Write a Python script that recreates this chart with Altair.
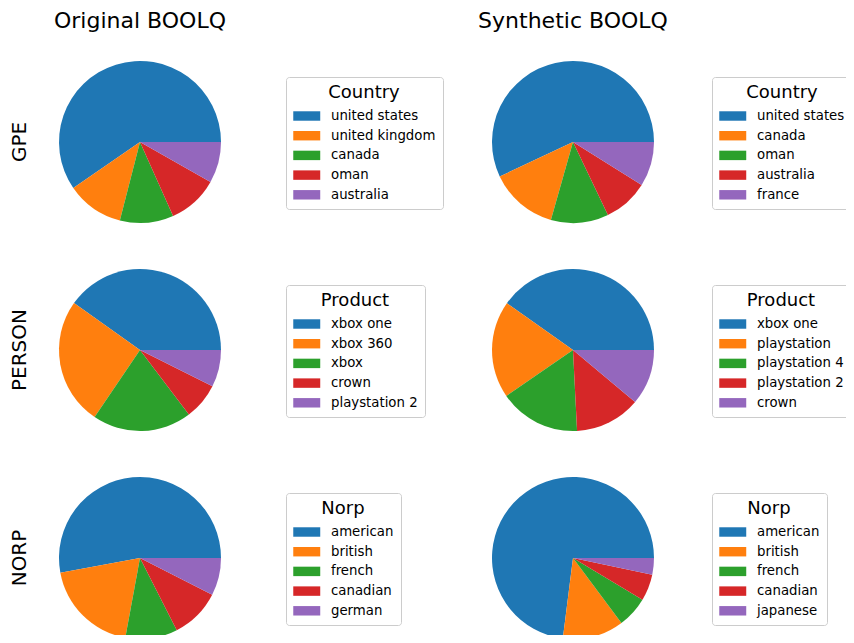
import math
import altair as alt
import pandas as pd

col_titles = ["Original BOOLQ", "Synthetic BOOLQ"]
row_labels = ["GPE", "PERSON", "NORP"]
legend_titles = ["Country", "Product", "Norp"]

gpe_orig_cats = ["united states", "united kingdom", "canada", "oman", "australia"]
gpe_orig_vals = [59.6, 11.4, 10.7, 10.1, 8.2]
gpe_syn_cats = ["united states", "canada", "oman", "australia", "france"]
gpe_syn_vals = [57.0, 13.6, 11.5, 9.0, 8.9]

person_orig_cats = ["xbox one", "xbox 360", "xbox", "crown", "playstation 2"]
person_orig_vals = [40.2, 25.4, 19.8, 7.3, 7.4]
person_syn_cats = ["xbox one", "playstation", "playstation 4", "playstation 2", "crown"]
person_syn_vals = [40.2, 19.4, 16.2, 13.1, 11.1]

norp_orig_cats = ["american", "british", "french", "canadian", "german"]
norp_orig_vals = [52.9, 19.2, 10.4, 10.0, 7.5]
norp_syn_cats = ["american", "british", "french", "canadian", "japanese"]
norp_syn_vals = [73.0, 12.2, 6.2, 5.3, 3.3]

palette = ["#1f77b4", "#ff7f0e", "#2ca02c", "#d62728", "#9467bd"]

cells = [
    [(gpe_orig_cats, gpe_orig_vals), (gpe_syn_cats, gpe_syn_vals)],
    [(person_orig_cats, person_orig_vals), (person_syn_cats, person_syn_vals)],
    [(norp_orig_cats, norp_orig_vals), (norp_syn_cats, norp_syn_vals)],
]

col_x = [132, 565]
row_y = [134, 342, 550]
legend_x = [278, 704]
legend_y = [69, 277, 485]
R = 81

layers = []
for r in range(3):
    for c in range(2):
        cats, vals = cells[r][c]
        df = pd.DataFrame({"cat": cats, "value": vals, "idx": list(range(len(cats)))})
        layer = alt.Chart(df).mark_arc(outerRadius=R).encode(
            theta=alt.Theta("value:Q", stack=True,
                            scale=alt.Scale(range=[math.pi / 2, math.pi / 2 - 2 * math.pi])),
            color=alt.Color(
                "cat:N",
                scale=alt.Scale(domain=cats, range=palette),
                legend=alt.Legend(
                    title=legend_titles[r],
                    orient="none",
                    legendX=legend_x[c],
                    legendY=legend_y[r],
                    fillColor="white",
                    strokeColor="#cccccc",
                    cornerRadius=3,
                    padding=7,
                    titleFont="DejaVu Sans",
                    titleFontSize=18,
                    titleFontWeight="normal",
                    titleColor="black",
                    titleAnchor="middle",
                    titlePadding=7,
                    labelFont="DejaVu Sans",
                    labelFontSize=13.3,
                    labelColor="black",
                    labelOffset=24,
                    rowPadding=5.7,
                    symbolType="M-1,-0.7H3V0.7H-1Z",
                    symbolSize=182,
                    symbolStrokeWidth=0,
                    symbolOpacity=1,
                ),
            ),
            order=alt.Order("idx:Q"),
            x=alt.value(col_x[c]),
            y=alt.value(row_y[r]),
        )
        layers.append(layer)

for c in range(2):
    t = alt.Chart(pd.DataFrame({"t": [col_titles[c]]})).mark_text(
        font="DejaVu Sans", fontSize=22, color="black", align="center", baseline="alphabetic"
    ).encode(text="t:N", x=alt.value(col_x[c]), y=alt.value(20))
    layers.append(t)

for r in range(3):
    t = alt.Chart(pd.DataFrame({"t": [row_labels[r]]})).mark_text(
        font="DejaVu Sans", fontSize=20, color="black", align="center", baseline="middle", angle=270
    ).encode(text="t:N", x=alt.value(12), y=alt.value(row_y[r]))
    layers.append(t)

chart = alt.layer(*layers).resolve_scale(color="independent", theta="independent").properties(
    width=838, height=627, padding=0, autosize=alt.AutoSizeParams(type="none")
).configure_view(stroke=None)

chart.save("out.html", embed_options={"renderer": "svg", "actions": False})
